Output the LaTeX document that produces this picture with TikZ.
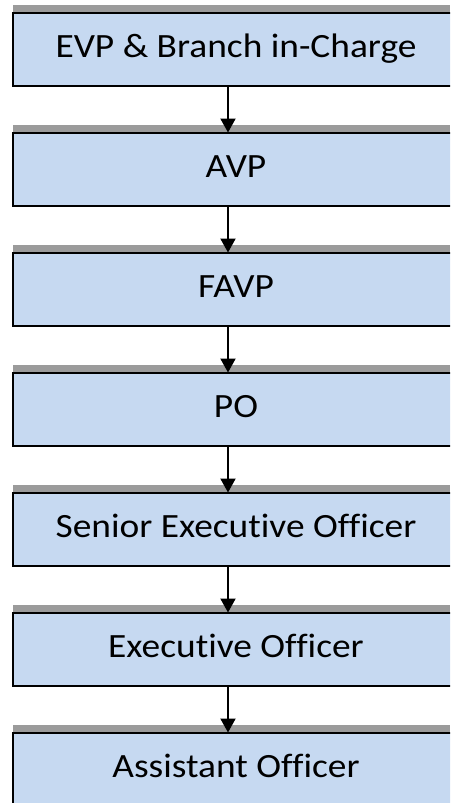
\documentclass[tikz,border=0pt]{standalone}
\usepackage{fontspec}
\setmainfont{Carlito}[FakeStretch=1.1, Ligatures=NoCommon]
\usetikzlibrary{arrows.meta}
\definecolor{boxblue}{RGB}{198,217,241}
\definecolor{bargray}{RGB}{155,155,155}
\begin{document}
\begin{tikzpicture}[x=1pt,y=-1pt,
  rank/.style={rectangle, draw=black, line width=2pt, fill=boxblue,
    minimum width=446pt, minimum height=73pt, inner sep=0pt, outer sep=0pt,
    text height=24pt, text depth=7pt,
    font=\fontsize{34}{40}\selectfont},
  link/.style={line width=2pt, -{Triangle[width=15pt,length=14pt]}},
  topbar/.style={fill=bargray}]
\useasboundingbox (0,0) rectangle (450,803);
\clip (0,0) rectangle (450,803);
\coordinate (axis) at (228,0);
\foreach \k in {0,...,6}{
  \fill[topbar] (13,{4.5+120*\k}) rectangle (450,{12.5+120*\k});
}
\foreach \t [count=\k from 0] in {EVP \& Branch in-Charge, AVP, FAVP, PO,
    Senior Executive Officer, Executive Officer, Assistant Officer}{
  \node[rank] (r\k) at (236,{49+120*\k}) {\t};
}
\foreach \a/\b in {0/1,1/2,2/3,3/4,4/5,5/6}{
  \draw[link] (r\a.south -| axis) -- (r\b.north -| axis);
}
\end{tikzpicture}
\end{document}
